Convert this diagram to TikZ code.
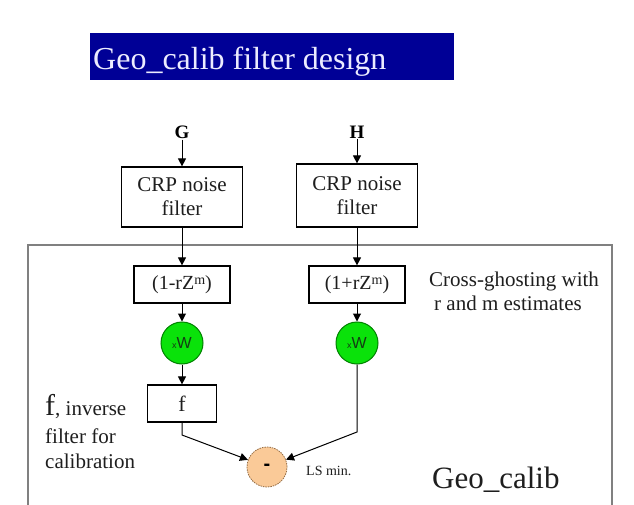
\documentclass[tikz,border=0pt]{standalone}
\usepackage{fontspec}
\setmainfont{Liberation Serif}
\newfontfamily\timesf{Liberation Serif}
\newfontfamily\arialf{Liberation Sans}
\usetikzlibrary{arrows.meta}
\definecolor{navy}{RGB}{0,0,150}
\definecolor{titletext}{RGB}{236,236,255}
\definecolor{wgreen}{RGB}{10,226,10}
\definecolor{wgreendark}{RGB}{0,130,0}
\definecolor{wtext}{RGB}{20,60,20}
\definecolor{peach}{RGB}{250,202,152}
\definecolor{peachdark}{RGB}{150,110,70}
\definecolor{framegray}{RGB}{128,128,128}
\definecolor{inktext}{RGB}{30,30,30}
\begin{document}
\begin{tikzpicture}[x=1pt,y=-1pt,
  box/.style={draw=black, line width=1.2pt, fill=white, inner sep=0pt, align=center,
              text=inktext, font=\timesf\fontsize{20}{24}\selectfont},
  wnode/.style={circle, draw=wgreendark, fill=wgreen, line width=1pt, minimum size=42pt,
                inner sep=0pt, text=wtext},
  minusnode/.style={circle, draw=peachdark, dashed, dash pattern=on 1.5pt off 1pt,
                    fill=peach, line width=0.8pt, minimum size=40pt, inner sep=0pt},
  arr/.style={-{Triangle[width=8pt,length=8pt]}, line width=1pt},
  lbl/.style={inner sep=0pt, text=inktext, font=\timesf\fontsize{21}{24}\selectfont}
]
\useasboundingbox (0,0) rectangle (634,505);
\fill[white] (0,0) rectangle (634,505);

% title banner
\fill[navy] (90,33) rectangle (454,80);
\node[anchor=base west, inner sep=0pt, text=titletext, font=\timesf\fontsize{32}{32}\selectfont]
  (title) at (93,70) {Geo\_calib filter design};

% frame
\draw[framegray, line width=1.5pt] (28,505) -- (28,245) -- (612,245) -- (612,505);

% inputs
\node[inner sep=1pt, font=\timesf\bfseries\fontsize{19}{19}\selectfont] (G) at (182,132) {G};
\node[inner sep=1pt, font=\timesf\bfseries\fontsize{19}{19}\selectfont] (H) at (357,132) {H};

% CRP noise filters
\node[box, minimum width=121pt, minimum height=60pt, font=\timesf\fontsize{21}{24}\selectfont] (crp1) at (182,197) {CRP noise\\filter};
\node[box, minimum width=121pt, minimum height=63pt, font=\timesf\fontsize{21}{24}\selectfont] (crp2) at (357,195.5) {CRP noise\\filter};

% cross-ghosting boxes
\node[box, minimum width=96pt, minimum height=37pt] (b1) at (182,284.5) {(1-rZ\raisebox{0.5ex}{\fontsize{14}{14}\selectfont m})};
\node[box, minimum width=96pt, minimum height=37pt] (b2) at (357,284.5) {(1+rZ\raisebox{0.5ex}{\fontsize{14}{14}\selectfont m})};

% weighting circles
\node[wnode] (w1) at (182,343) {{\arialf\fontsize{9}{9}\selectfont x}{\arialf\fontsize{16}{16}\selectfont W}};
\node[wnode] (w2) at (357,343) {{\arialf\fontsize{9}{9}\selectfont x}{\arialf\fontsize{16}{16}\selectfont W}};

% inverse filter
\node[box, minimum width=69pt, minimum height=37pt, font=\timesf\fontsize{22}{24}\selectfont] (f) at (182,403.5) {f};

% subtraction
\node[minusnode, font=\arialf\bfseries\fontsize{20}{20}\selectfont] (m) at (267,467) {-};
\coordinate (c1) at (182,435);
\coordinate (c2) at (357,432);

% connectors
\draw[arr] (G) -- (crp1);
\draw[arr] (H) -- (crp2);
\draw[arr] (crp1) -- (b1);
\draw[arr] (crp2) -- (b2);
\draw[arr] (b1) -- (w1);
\draw[arr] (b2) -- (w2);
\draw[arr] (w1) -- (f);
\draw[arr] (f.south) -- (c1) -- (m);
\draw[arr] (w2.south) -- (c2) -- (m);

% labels
\node[lbl, anchor=base west] (cg1) at (429,286) {Cross-ghosting with};
\node[lbl, anchor=base west] (cg2) at (434,310) {r and m estimates};

\node[lbl, anchor=base west] (inv1) at (45,415) {{\fontsize{30}{30}\selectfont f}, inverse};
\node[lbl, anchor=base west] (inv2) at (45,443) {filter for};
\node[lbl, anchor=base west] (inv3) at (45,468) {calibration};

\node[inner sep=0pt, anchor=base west, text=inktext, font=\timesf\fontsize{14}{14}\selectfont] (ls) at (306,475) {LS min.};

\node[inner sep=0pt, anchor=base west, text=inktext, font=\timesf\fontsize{31}{31}\selectfont] (geo) at (432,488) {Geo\_calib};
\end{tikzpicture}
\end{document}
